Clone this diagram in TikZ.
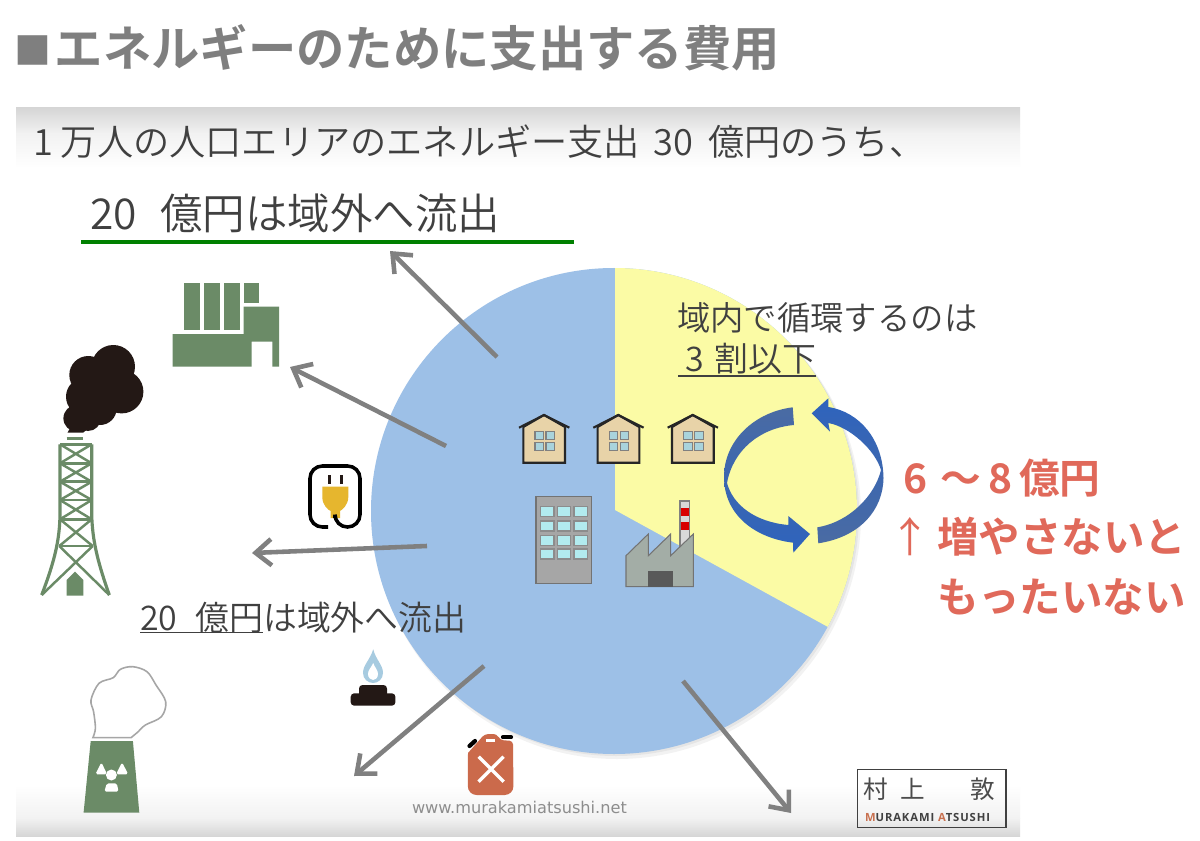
\documentclass[tikz,border=0pt]{standalone}
\usepackage{fontspec}
\usetikzlibrary{arrows.meta}
\setmainfont{Noto Sans CJK JP}[UprightFont=* DemiLight,BoldFont=* Bold]
\newfontfamily\jpreg{Noto Sans CJK JP}
\newfontfamily\urlfont{DejaVu Sans}
\newfontfamily\logofont{Open Sans}
\definecolor{pieblue}{HTML}{9DC0E7}
\definecolor{pieyellow}{HTML}{FBFBA5}
\definecolor{iconGreen}{HTML}{6B8B67}
\definecolor{soot}{HTML}{231815}
\definecolor{arrowGray}{HTML}{808080}
\definecolor{txtDark}{HTML}{404040}
\definecolor{titleGray}{HTML}{7F7F7F}
\definecolor{redTxt}{HTML}{E0695A}
\definecolor{wall}{HTML}{E8D3A8}
\definecolor{pane}{HTML}{A9D3DC}
\definecolor{logoOrange}{HTML}{C8704F}
\definecolor{bandGray}{HTML}{D6D6D6}
\definecolor{bandMid}{HTML}{F2F2F2}
\definecolor{dullBlue}{HTML}{4A6BA3}
\definecolor{satBlue}{HTML}{2E63BD}
\definecolor{plugYellow}{HTML}{E6B62E}
\definecolor{flameBlue}{HTML}{A7CBE0}
\definecolor{plantGray}{HTML}{A3ADA6}
\tikzset{
  every node/.style={inner sep=0pt,outer sep=0pt},
  lbl/.style={anchor=base west,text=txtDark},
  redlbl/.style={anchor=base west,text=redTxt,font=\fontsize{23.6}{26}\selectfont\bfseries},
  flow/.style={draw=arrowGray,line width=2.6pt,-{Straight Barb[length=9pt,width=15pt]}},
  rule/.style={draw=txtDark,line width=0.85pt},
  lattice/.style={draw=iconGreen,line width=1.4pt},
}
\begin{document}
\begin{tikzpicture}[x=0.02cm,y=-0.02cm]
\useasboundingbox (0,0) rectangle (1200,841);
\fill[white] (0,0) rectangle (1200,841);
% slide bands
\shade[top color=bandGray,bottom color=bandMid] (16,108) rectangle (1020,134);
\shade[top color=bandMid,bottom color=white] (16,134) rectangle (1020,168);
\shade[top color=white,bottom color=bandMid] (16,785) rectangle (1020,818);
\shade[top color=bandMid,bottom color=bandGray] (16,818) rectangle (1020,836);
% pie
\fill[black,opacity=.05] (617,515) circle[radius=244];
\fill[black,opacity=.05] (616,513) circle[radius=243];
\fill[pieblue] (614,511) circle[radius=243];
\begin{scope}
  \clip (614,511) circle[radius=243];
  \fill[pieyellow] (615,510) -- (615,240) -- (900,240) -- (900,667) -- (828,627) -- cycle;
\end{scope}
% texts
\node[anchor=base west,text=titleGray,font=\fontsize{27.5}{30}\selectfont\bfseries] (title) at (14,67) {\raisebox{1.5pt}{\fontsize{21}{23}\selectfont ■}\hspace{2.3pt}エネルギーのために支出する費用};
\node[lbl,font=\fontsize{20.6}{24}\selectfont] (sub) at (33,155.5) {1 万人の人口エリアのエネルギー支出\hspace{3pt} 30\hspace{4pt} 億円のうち、};
\node[lbl,font=\fontsize{24.2}{28}\selectfont] (out1) at (90,230) {20\hspace{8pt} 億円は域外へ流出};
\node[lbl,font=\fontsize{19.3}{22}\selectfont] (out2) at (140,630) {20\hspace{6pt} 億円は域外へ流出};
\node[lbl,font=\fontsize{19}{22}\selectfont] (inner1) at (677,330.5) {域内で循環するのは};
\node[lbl,font=\fontsize{19.3}{22}\selectfont] (inner2) at (685,371) {3\hspace{2pt} 割以下};
\node[redlbl,font=\fontsize{23.2}{26}\selectfont\bfseries] (red1) at (903,493) {6\,\,～\,8\,億円};
\node[redlbl] (red2) at (889,552.5) {{\jpreg\mdseries ↑}\,増やさないと};
\node[redlbl] (red3) at (937,612) {もったいない};
\node[anchor=base west,text=arrowGray!90,font=\urlfont\fontsize{9.2}{11}\selectfont] (url) at (412,813) {www.murakamiatsushi.net};
% rules
\coordinate (g1) at (81,242); \coordinate (g2) at (574,242);
\draw[draw=green!50!black,line width=2.2pt] (g1) -- (g2);
\coordinate (u1) at (140,632.5); \coordinate (u2) at (263,632.5);
\draw[rule] (u1) -- (u2);
\coordinate (u3) at (678,376); \coordinate (u4) at (816,376);
\draw[rule] (u3) -- (u4);
% arrows
\coordinate (a1s) at (497,357); \coordinate (a1e) at (390,251);
\coordinate (a2s) at (446,446); \coordinate (a2e) at (290,367);
\coordinate (a3s) at (427,546); \coordinate (a3e) at (252,553);
\coordinate (a4s) at (484,666); \coordinate (a4e) at (354,776);
\coordinate (a5s) at (683,681); \coordinate (a5e) at (791,813);
\draw[flow] (a1s) -- (a1e);
\draw[flow] (a2s) -- (a2e);
\draw[flow] (a3s) -- (a3e);
\draw[flow] (a4s) -- (a4e);
\draw[flow] (a5s) -- (a5e);
% green factory
\fill[iconGreen] (184.3,283.3) rectangle (200.3,330);
\fill[iconGreen] (204,283.3) rectangle (220,330);
\fill[iconGreen] (223.7,283.3) rectangle (239.7,330);
\fill[iconGreen] (243.7,283.3) rectangle (259.3,302.7);
\fill[iconGreen] (172.7,334) -- (243.7,334) -- (243.7,306.7) -- (279,306.7) -- (279,366.7) -- (272.3,366.7) -- (272.3,341.7) -- (251.7,341.7) -- (251.7,366.7) -- (172.7,366.7) -- cycle;
% smoke
\fill[soot] (113.3,366.7) circle[radius=21.7] (88.3,375) circle[radius=19] (85,396.7) circle[radius=19] (121.7,391.7) circle[radius=21.7] (76.7,418.3) circle[radius=13.3] (100,408.3) circle[radius=16.7] (105,385) circle[radius=20] (88,418) circle[radius=13];
\fill[soot] (67.5,432.7) -- (83,432.7) -- (93,425) -- (80,410) -- cycle;
% tower
\draw[lattice] (66.7,438.3) -- (83.3,438.3);
\draw[lattice] (60,444.3) -- (91.7,444.3) (60,463.3) -- (91.7,463.3) (60,481.7) -- (91.7,481.7) (60,500) -- (91.7,500) (60,519.3) -- (91.7,519.3) (59.3,546) -- (92.7,546);
\draw[lattice] (60,444.3) -- (91.7,463.3) (91.7,444.3) -- (60,463.3) (60,463.3) -- (91.7,481.7) (91.7,463.3) -- (60,481.7) (60,481.7) -- (91.7,500) (91.7,481.7) -- (60,500) (60,500) -- (91.7,519.3) (91.7,500) -- (60,519.3) (60,519.3) -- (92.7,546) (91.7,519.3) -- (59.3,546) (59.3,546) -- (109.3,595) (92.7,546) -- (41.7,595);
\draw[draw=iconGreen,line width=1.8pt,line join=round] (60,444.3) -- (60,515) .. controls (59.5,540) and (55,560) .. (41.7,595);
\draw[draw=iconGreen,line width=1.8pt,line join=round] (91.7,444.3) -- (91.7,515) .. controls (92.5,540) and (97,560) .. (109.3,595);
\fill[iconGreen] (66.7,595.5) -- (66.7,580) -- (75,571.7) -- (83.3,580) -- (83.3,595.5) -- cycle;
% plug
\fill[soot] (327.7,475) rectangle ++(3,8.5);
\fill[soot] (339.5,475) rectangle ++(3,8.5);
\fill[plugYellow] (322.3,486.7) -- (348.3,486.7) -- (348.3,497) .. controls (348.3,505) and (342,510) .. (340,511) -- (340,518) -- (330.7,518) -- (330.7,511) .. controls (328,510) and (322.3,505) .. (322.3,497) -- cycle;
\draw[black,line width=2pt,rounded corners=7pt] (328,527) -- (310,527) -- (310,466) -- (360,466) -- (360,527) -- (335,527) -- (335,518);
% gas burner
\fill[flameBlue] (373.2,649.3) .. controls (376,660) and (383,665) .. (383,673) .. controls (383,679) and (378,683) .. (373.2,683) .. controls (368,683) and (363,679) .. (363,673) .. controls (363,665) and (370,660) .. (373.2,649.3) -- cycle;
\fill[white] (373.2,663) .. controls (375,668) and (378,670) .. (378,674) .. controls (378,678) and (375,680) .. (373.2,680) .. controls (371,680) and (368,678) .. (368,674) .. controls (368,670) and (371,668) .. (373.2,663) -- cycle;
\fill[soot,rounded corners=2pt] (359,685) rectangle (387,698);
\fill[soot,rounded corners=2pt] (350.7,693.3) rectangle (395.4,705.7);
% nuclear
\draw[draw=black!35,fill=white,line width=0.9pt] plot[smooth,tension=0.55] coordinates {(92.9,737.7) (95.4,728.3) (93.6,711.7) (91,700) (99,683.3) (113.2,677.7) (120.4,669.3) (132.9,666.7) (147,671.7) (156,685) (165.7,701.7) (161.4,716.7) (145.4,725) (138.2,731.7) (131,737.7)} -- cycle;
\fill[iconGreen] (90.7,741) -- (132.9,741) -- (139.3,812.7) -- (83.6,812.7) -- cycle;
\fill[white] (111.4,775) circle[radius=5.5];
\fill[white,rounded corners=1pt] (101.4,762.3) -- (107.1,774.3) -- (95.4,774.3) -- cycle;
\fill[white,rounded corners=1pt] (122.1,762.3) -- (128.2,774.3) -- (116,774.3) -- cycle;
\fill[white,rounded corners=1pt] (106.8,783.3) -- (116.8,783.3) -- (118.6,791.7) -- (104.3,791.7) -- cycle;
% jerry can
\fill[fill=logoOrange!95!red] (468,753) -- (483,736) [rounded corners=2pt] -- (485,734) -- (497,734) -- (500,740) -- (513,741) [rounded corners=5pt] -- (513.5,795) -- (467.8,795) [sharp corners] -- cycle;
\fill[white] (485.7,738.7) rectangle (495.4,742.3);
\draw[black,line width=2.4pt,line cap=round] (469.5,746) -- (475,741);
\draw[black,line width=2.4pt,line cap=round] (503,737.3) -- (511,737.3);
\draw[white,line width=1.9pt] (478.6,756.7) -- (503.6,781.7) (503.6,756.7) -- (478.6,781.7);
% houses
\foreach \dx in {0,74.3,148.7}{
  \begin{scope}[shift={(\dx,0)}]
    \draw[black!85,fill=wall,line width=1.2pt] (523.3,427) -- (523.3,462.7) -- (565,462.7) -- (565,427) -- (544,415) -- cycle;
    \draw[black!85,line width=1.2pt] (519,427.7) -- (544,415) -- (569.3,427.7);
    \foreach \wx/\wy in {535/431.7,546/431.7,535/442.3,546/442.3}{
      \draw[draw=black!50,fill=pane,line width=0.6pt] (\wx,\wy) rectangle ++(8.5,8);
    }
  \end{scope}
}
% office block
\draw[draw=black!55,fill=black!35,line width=0.9pt] (536,496.7) rectangle (591.7,583.3);
\foreach \wx in {540.7,557.3,574}{
  \foreach \wy in {506.7,521,535.7,549}{
    \draw[draw=black!45,fill=pane!75!cyan!60!white,line width=0.6pt] (\wx,\wy) rectangle ++(13.3,10);
  }
}
% plant
\draw[draw=black!50,fill=black!15,line width=0.6pt] (680,501) rectangle (689.3,546);
\fill[red!85!black] (680.5,508.3) rectangle (688.8,515.7);
\fill[red!85!black] (680.5,522.3) rectangle (688.8,530);
\draw[draw=black!55,fill=plantGray,line width=0.6pt] (626,586.7) -- (626,555.7) -- (648.3,534) -- (648.3,555.7) -- (670.7,534) -- (670.7,555.7) -- (693.3,534) -- (693.3,586.7) -- cycle;
\fill[black!65] (648.3,571) rectangle (672.7,586.7);
% cycle arrows
\shade[top color=dullBlue,bottom color=satBlue] (792.7,407.3) .. controls (755,412) and (724,440) .. (724,477) .. controls (724,515) and (755,538) .. (793,542.7) -- (793.3,552.7) -- (810,534) -- (788.3,516) -- (788.3,525) .. controls (755,522) and (733,505) .. (727,483) .. controls (733,450) and (760,428) .. (794,425) -- cycle;
\shade[top color=satBlue,bottom color=dullBlue] (818.3,543.3) .. controls (860,537) and (883,510) .. (883.5,478) .. controls (883,440) and (860,412) .. (828.3,407) -- (828.3,398.3) -- (811.7,413.3) -- (830,431.7) -- (828.3,423) .. controls (850,427) and (875,450) .. (881,470) .. controls (875,495) and (850,522) .. (817.3,527.3) -- cycle;
% logo
\coordinate (lg1) at (857.3,769.3); \coordinate (lg2) at (1005.7,827.3);
\draw[draw=black!75,line width=0.9pt] (lg1) rectangle (lg2);
\node[anchor=base west,text=black!70,font=\jpreg\fontsize{14}{16}\selectfont] (logoname) at (863,798) {村\hspace{7.4pt}上\hspace{26pt}敦};
\node[anchor=base west,text=black!75,font=\logofont\bfseries\fontsize{6.4}{8}\selectfont\addfontfeature{LetterSpace=8}] (logolatin) at (865,821) {\textcolor{logoOrange}{M}URAKAMI \textcolor{logoOrange}{A}TSUSHI};
\end{tikzpicture}
\end{document}
